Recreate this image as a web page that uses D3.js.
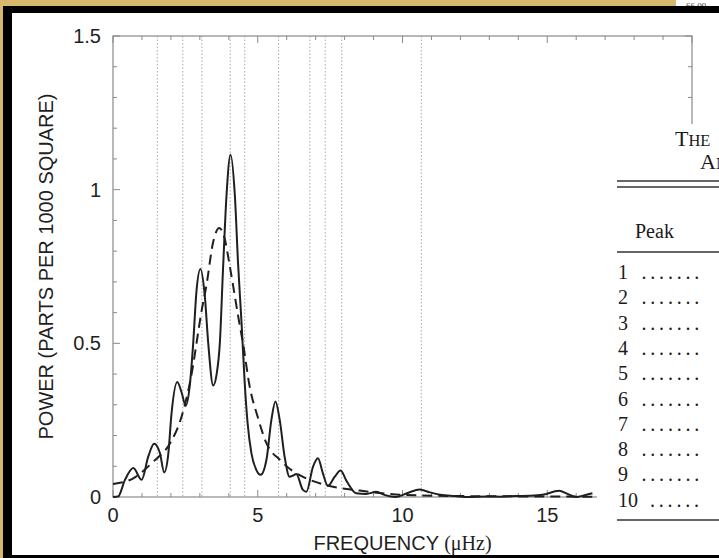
<!DOCTYPE html>
<html>
<head>
<meta charset="utf-8">
<script src="https://cdn.jsdelivr.net/npm/d3@7"></script>
<style>
  html, body { margin: 0; padding: 0; background: #fff; }
  svg { display: block; }
</style>
</head>
<body>
<script>
// Identified oscillation peaks (μHz), marked by dotted verticals
const peakFreqs = [1.53, 2.41, 3.07, 4.05, 4.55, 5.72, 6.80, 7.33, 7.90, 10.65];

// Measured power spectrum (solid line)
const specFreq = [0.00, 0.18, 0.41, 0.70, 0.99, 1.22, 1.42, 1.62, 1.77, 1.91, 2.02, 2.22, 2.37, 2.51, 2.66, 2.77, 2.88, 3.02, 3.17, 3.29, 3.46, 3.58, 3.69, 3.80, 3.92, 4.06, 4.21, 4.32, 4.44, 4.55, 4.65, 4.78, 4.95, 5.10, 5.30, 5.47, 5.61, 5.76, 5.93, 6.10, 6.22, 6.33, 6.56, 6.68, 6.91, 7.08, 7.25, 7.42, 7.66, 7.86, 8.08, 8.40, 8.75, 9.09, 9.40, 9.75, 10.20, 10.59, 10.95, 11.30, 11.80, 12.30, 12.90, 13.40, 13.90, 14.40, 14.83, 15.41, 15.70, 16.00, 16.30, 16.56];
const specPower = [0.000, 0.002, 0.055, 0.094, 0.056, 0.132, 0.173, 0.143, 0.080, 0.140, 0.270, 0.374, 0.340, 0.297, 0.370, 0.500, 0.666, 0.742, 0.655, 0.500, 0.363, 0.400, 0.500, 0.740, 0.980, 1.114, 0.980, 0.760, 0.567, 0.370, 0.240, 0.143, 0.088, 0.072, 0.121, 0.250, 0.311, 0.250, 0.130, 0.066, 0.070, 0.075, 0.023, 0.017, 0.099, 0.126, 0.077, 0.036, 0.066, 0.086, 0.050, 0.012, 0.010, 0.017, 0.006, 0.000, 0.014, 0.024, 0.015, 0.007, 0.003, 0.000, 0.002, 0.001, 0.003, 0.004, 0.007, 0.020, 0.010, 0.000, 0.006, 0.012];

// Smooth envelope fit (dashed line)
const fitFreq = [0.00, 0.70, 1.39, 1.97, 2.37, 2.77, 2.90, 3.05, 3.23, 3.46, 3.67, 3.86, 4.00, 4.15, 4.32, 4.49, 4.72, 5.00, 5.30, 5.76, 6.20, 6.79, 7.48, 8.52, 10.00, 12.00, 14.00, 16.56];
const fitPower = [0.042, 0.061, 0.115, 0.175, 0.262, 0.430, 0.510, 0.600, 0.690, 0.830, 0.875, 0.840, 0.770, 0.687, 0.590, 0.500, 0.360, 0.260, 0.175, 0.121, 0.085, 0.056, 0.036, 0.021, 0.007, 0.003, 0.002, 0.001];

const xTickLabels = [0, 5, 10, 15];
const yTickLabels = [0, 0.5, 1, 1.5];

// Table column of peak numbers
const peakRows = ["1", "2", "3", "4", "5", "6", "7", "8", "9", "10"];

const W = 719, H = 558;
const svg = d3.select("body").append("svg").attr("width", W).attr("height", H);

// ---- page frame ----
svg.append("rect").attr("x", 0).attr("y", 0).attr("width", W).attr("height", H).attr("fill", "#d8b86c");
svg.append("rect").attr("x", 676).attr("y", 0).attr("width", 43).attr("height", 8).attr("fill", "#fff");
const clipTop = svg.append("clipPath").attr("id", "clipTop");
clipTop.append("rect").attr("x", 676).attr("y", 0).attr("width", 43).attr("height", 6);
svg.append("text").attr("x", 686).attr("y", 9).attr("clip-path", "url(#clipTop)")
  .attr("font-family", "Liberation Serif").attr("font-size", 9).attr("fill", "#444").text("66 09");
svg.append("rect").attr("x", 3).attr("y", 6).attr("width", W).attr("height", H).attr("fill", "#000");
svg.append("rect").attr("x", 12).attr("y", 13).attr("width", W).attr("height", 542).attr("fill", "#fff");

// ---- plot ----
const x = d3.scaleLinear().domain([0, 20]).range([113, 692]);
const y = d3.scaleLinear().domain([0, 1.5]).range([497, 36]);
const frameColor = "#8a8a8a";
const inkColor = "#1f1f1f";

const g = svg.append("g");

// peak markers
g.selectAll("line.peak").data(peakFreqs).join("line")
  .attr("class", "peak")
  .attr("x1", d => x(d)).attr("x2", d => x(d))
  .attr("y1", y(1.5)).attr("y2", y(0))
  .attr("stroke", "#a8a8a8").attr("stroke-width", 1).attr("stroke-dasharray", "1.5,2");

// plot box
g.append("rect").attr("x", x(0)).attr("y", y(1.5))
  .attr("width", x(20) - x(0)).attr("height", y(0) - y(1.5))
  .attr("fill", "none").attr("stroke", frameColor).attr("stroke-width", 1.2);

// inward ticks on all four sides
const xt = d3.range(0, 21, 1);
const yt = d3.range(0, 16, 1).map(v => v / 10);
const isMajorX = v => v % 5 === 0;
const isMajorY = v => Math.abs(v * 2 - Math.round(v * 2)) < 1e-9;

g.selectAll("line.xb").data(xt).join("line").attr("class", "xb")
  .attr("x1", d => x(d)).attr("x2", d => x(d))
  .attr("y1", y(0)).attr("y2", d => y(0) - (isMajorX(d) ? 7 : 4))
  .attr("stroke", frameColor).attr("stroke-width", 1);
g.selectAll("line.xtp").data(xt).join("line").attr("class", "xtp")
  .attr("x1", d => x(d)).attr("x2", d => x(d))
  .attr("y1", y(1.5)).attr("y2", d => y(1.5) + (isMajorX(d) ? 7 : 4))
  .attr("stroke", frameColor).attr("stroke-width", 1);
g.selectAll("line.yl").data(yt).join("line").attr("class", "yl")
  .attr("y1", d => y(d)).attr("y2", d => y(d))
  .attr("x1", x(0)).attr("x2", d => x(0) + (isMajorY(d) ? 7 : 4))
  .attr("stroke", frameColor).attr("stroke-width", 1);
g.selectAll("line.yr").data(yt).join("line").attr("class", "yr")
  .attr("y1", d => y(d)).attr("y2", d => y(d))
  .attr("x1", x(20)).attr("x2", d => x(20) - (isMajorY(d) ? 7 : 4))
  .attr("stroke", frameColor).attr("stroke-width", 1);

// tick labels
g.selectAll("text.xl").data(xTickLabels).join("text").attr("class", "xl")
  .attr("x", d => x(d)).attr("y", 522)
  .attr("text-anchor", "middle")
  .attr("font-family", "Liberation Sans, Arial, sans-serif").attr("font-size", 20)
  .attr("fill", inkColor).text(d => d);
g.selectAll("text.yl").data(yTickLabels).join("text").attr("class", "yl")
  .attr("x", 101).attr("y", d => y(d) + 7)
  .attr("text-anchor", "end")
  .attr("font-family", "Liberation Sans, Arial, sans-serif").attr("font-size", 20)
  .attr("fill", inkColor).text(d => d);

// axis titles
g.append("text")
  .attr("transform", `translate(53,${(y(0) + y(1.5)) / 2}) rotate(-90)`)
  .attr("text-anchor", "middle")
  .attr("font-family", "Liberation Sans, Arial, sans-serif").attr("font-size", 20)
  .attr("fill", inkColor).text("POWER (PARTS PER 1000 SQUARE)");
const xTitle = g.append("text")
  .attr("x", (x(0) + x(20)) / 2).attr("y", 550)
  .attr("text-anchor", "middle")
  .attr("font-family", "Liberation Sans, Arial, sans-serif").attr("font-size", 20)
  .attr("fill", inkColor);
xTitle.append("tspan").text("FREQUENCY ");
xTitle.append("tspan").attr("font-family", "Liberation Serif, Times New Roman, serif").text("(μHz)");

// curves
const spectrum = specFreq.map((f, i) => [f, specPower[i]]);
const fit = fitFreq.map((f, i) => [f, fitPower[i]]);
const line = d3.line().x(d => x(d[0])).y(d => y(d[1])).curve(d3.curveMonotoneX);

g.append("path").attr("d", line(fit))
  .attr("fill", "none").attr("stroke", inkColor).attr("stroke-width", 2)
  .attr("stroke-dasharray", "10,6");
g.append("path").attr("d", line(spectrum))
  .attr("fill", "none").attr("stroke", inkColor).attr("stroke-width", 2)
  .attr("stroke-linejoin", "round");

// ---- table panel on the right ----
svg.append("rect").attr("x", 597).attr("y", 124).attr("width", 130).attr("height", 431).attr("fill", "#fff");
const serif = "Liberation Serif, Times New Roman, serif";
const tbl = svg.append("g").attr("font-family", serif).attr("fill", "#1a1a1a");

const t1 = tbl.append("text").attr("x", 675).attr("y", 146).attr("font-size", 22);
t1.append("tspan").text("T");
t1.append("tspan").attr("font-size", 16.5).text("HE");
const t2 = tbl.append("text").attr("x", 700).attr("y", 169).attr("font-size", 22);
t2.append("tspan").text("A");
t2.append("tspan").attr("font-size", 16.5).text("N");

const rule = (yy) => tbl.append("line").attr("x1", 617).attr("x2", 730)
  .attr("y1", yy).attr("y2", yy).attr("stroke", "#333").attr("stroke-width", 1.5);
rule(181); rule(187); rule(252); rule(520);

tbl.append("text").attr("x", 635).attr("y", 238).attr("font-size", 20).text("Peak");

tbl.selectAll("text.row").data(peakRows).join("text").attr("class", "row")
  .attr("x", 618).attr("y", (d, i) => 279 + i * 25.3)
  .attr("font-size", 20).text(d => d);
tbl.selectAll("text.dots").data(peakRows).join("text").attr("class", "dots")
  .attr("x", d => d.length > 1 ? 650 : 641.5).attr("y", (d, i) => 279 + i * 25.3)
  .attr("font-size", 20).attr("letter-spacing", 3.8)
  .text(d => d.length > 1 ? "......" : ".......");
</script>
</body>
</html>
